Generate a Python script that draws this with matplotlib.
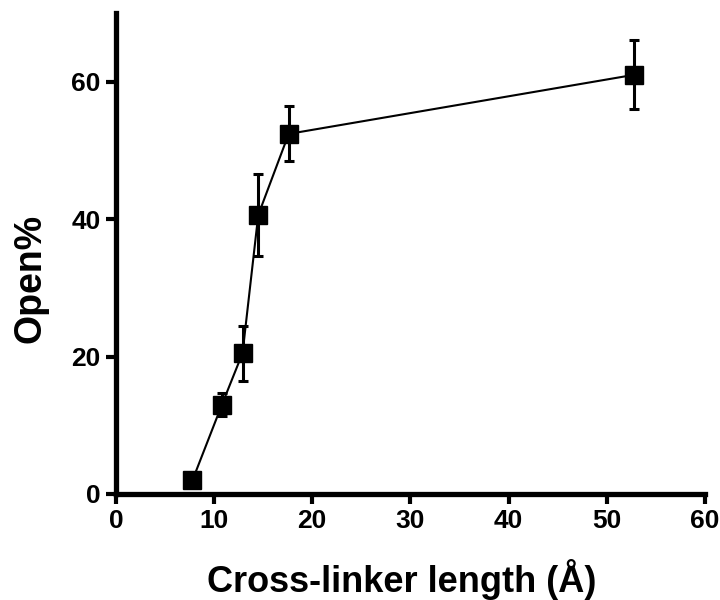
import numpy as np
import matplotlib.pyplot as plt

plt.rcParams['font.family'] = ['Liberation Sans', 'DejaVu Sans']

# data
length = [7.8, 10.8, 12.9, 14.5, 17.6, 52.8]
open_pct = [2.0, 13.0, 20.5, 40.6, 52.4, 61.0]
err = [0.5, 1.7, 4.0, 6.0, 4.0, 5.0]

fig = plt.figure(figsize=(7.2, 6), dpi=100)
ax = fig.add_axes([0.161, 0.1767, 0.818, 0.8017])

ax.errorbar(length, open_pct, yerr=err, color='black', lw=1.5,
            marker='s', ms=13, mfc='black', mec='black',
            elinewidth=2.2, capsize=3.5, capthick=2.2)

ax.set_xlim(0, 60)
ax.set_ylim(0, 70)
ax.set_xticks([0, 10, 20, 30, 40, 50, 60])
ax.set_yticks([0, 20, 40, 60])

for s in ['top', 'right']:
    ax.spines[s].set_visible(False)
for s in ['left', 'bottom']:
    ax.spines[s].set_linewidth(3.8)
ax.tick_params(width=3, length=7, direction='out', labelsize=19, pad=4)
for lab in ax.get_xticklabels() + ax.get_yticklabels():
    lab.set_fontweight('bold')

# axis titles placed where the reference has them
fig.text(402 / 720, 1 - 580 / 600, 'Cross-linker length (Å)', fontsize=26,
         fontweight='bold', ha='center', va='center')
fig.text(30 / 720, 1 - 278 / 600, 'Open%', fontsize=27, fontweight='bold',
         rotation=90, ha='center', va='center')

fig.savefig('out.png', dpi=100)
